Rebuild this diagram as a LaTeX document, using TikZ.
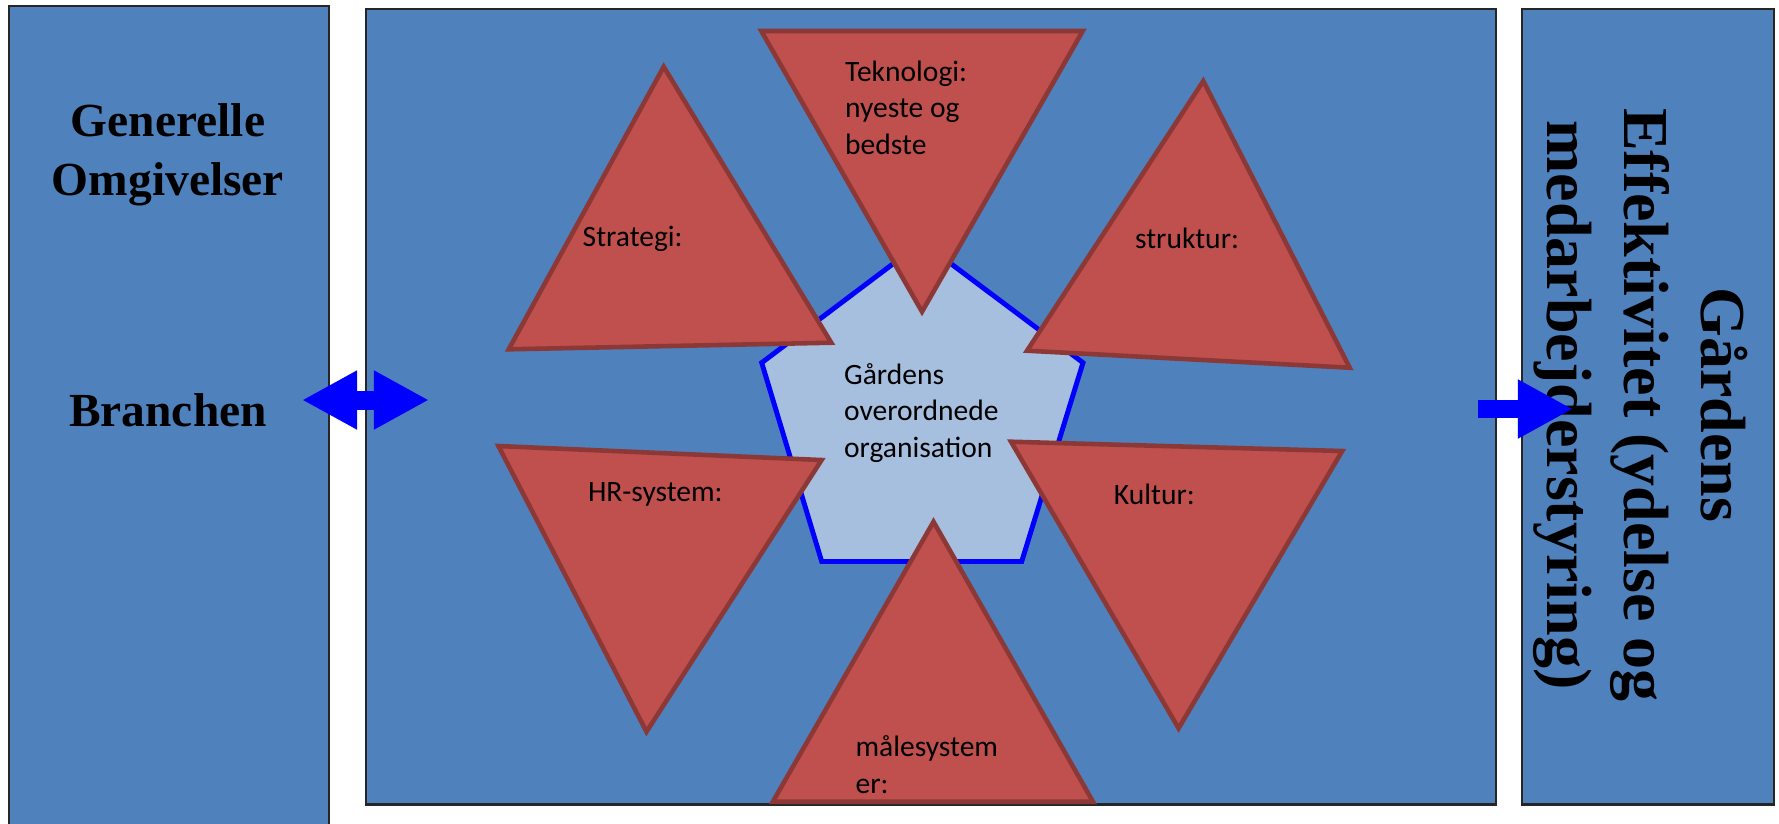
\documentclass[tikz,border=0pt]{standalone}
\usepackage{fontspec}
\setmainfont{Liberation Serif}
\newfontfamily\calfont{Carlito}
\usepackage{xcolor}
\usepackage{tikz}
\usetikzlibrary{arrows.meta,positioning}

\definecolor{panelblue}{HTML}{4F81BD}
\definecolor{trired}{HTML}{C0504D}
\definecolor{triedge}{HTML}{8C3836}
\definecolor{corefill}{HTML}{A7BFDE}

\begin{document}
\begin{tikzpicture}[x=0.01cm, y=-0.01cm,
		>={Triangle[length=5.5mm, width=5.5mm]},
		panel/.style = {draw=black!85, line width=0.6pt, fill=panelblue, inner sep=0pt, anchor=north west},
		tri/.style = {draw=triedge, line width=1.3pt, fill=trired},
		lbl/.style = {inner sep=0pt, anchor=base west, align=left, font=\calfont\fontsize{8.4pt}{10.4pt}\selectfont},
		big/.style = {inner sep=0pt, anchor=base, align=center, font=\bfseries\fontsize{13.5pt}{16.5pt}\selectfont},
		bigger/.style = {big, font=\bfseries\fontsize{18.2pt}{21.9pt}\selectfont}
		]
		\useasboundingbox (0,0) rectangle (1779,823);
		
		% the three panels
		\node (env) [panel, minimum width=3.2cm, minimum height=8.3cm] at (8,5) {};
		\node (org) [panel, minimum width=11.29cm, minimum height=7.95cm] at (365,8) {};
		\node (eff) [panel, minimum width=2.52cm, minimum height=7.95cm] at (1521,8) {};
		
		% base = last line
		\node (gen) [big] at (168,195) {Generelle\\Omgivelser};
		\node (bra) [big] at (168,426) {Branchen};
		\node (res) [bigger, rotate=-90] at (1547,405) {Gårdens\\Effektivitet (ydelse og\\medarbejderstyring)};
		
		% core
		\path[draw=blue, fill=corefill, line width=1.4pt] (922,242) -- (1083,362.7) -- (1021.7,561.5) -- (821.7,561.5) -- (761.7,362.7) -- cycle;
		\node (core) [lbl] at (843.4,457.3) {Gårdens\\overordnede\\organisation};
		
		% triangles
		\path[tri] (663.7,66.7) -- (831.3,342.7) -- (508.7,349.3) -- cycle;
		\path[tri] (761.3,31) -- (1082.8,31) -- (922,311.7) -- cycle;
		\path[tri] (1203.3,81) -- (1349.7,367.7) -- (1027,350.7) -- cycle;
		\path[tri] (498.4,446) -- (821.6,460) -- (646.5,731.7) -- cycle;
		\path[tri] (1011,441.7) -- (1342.2,451) -- (1178.6,728.3) -- cycle;
		\path[tri] (933.5,521.7) -- (1093,801.7) -- (772.8,801.7) -- cycle;
		
		\node (strat) [lbl] at (582,246.7) {Strategi:};
		\node (tek) [lbl] at (844.5,154.3) {Teknologi:\\nyeste og\\bedste};
		\node (struk) [lbl] at (1134.4,248) {struktur:};
		\node (hr) [lbl] at (587.3,501.7) {HR-system:};
		\node (kult) [lbl] at (1113.2,504.3) {Kultur:};
		\node (maal) [lbl] at (854.9,793.3) {målesystem\\er:};
		
		% arrows
		\coordinate (inL) at (302,400);
		\coordinate (inR) at (429,400);
		\coordinate (outS) at (1478,409);
		\coordinate (outT) at (1573,409);
		\draw[<->, blue, line width=1.9mm] (inL) -- (inR);
		\draw[->, blue, line width=1.8mm] (outS) -- (outT);
		
\end{tikzpicture}
\end{document}
